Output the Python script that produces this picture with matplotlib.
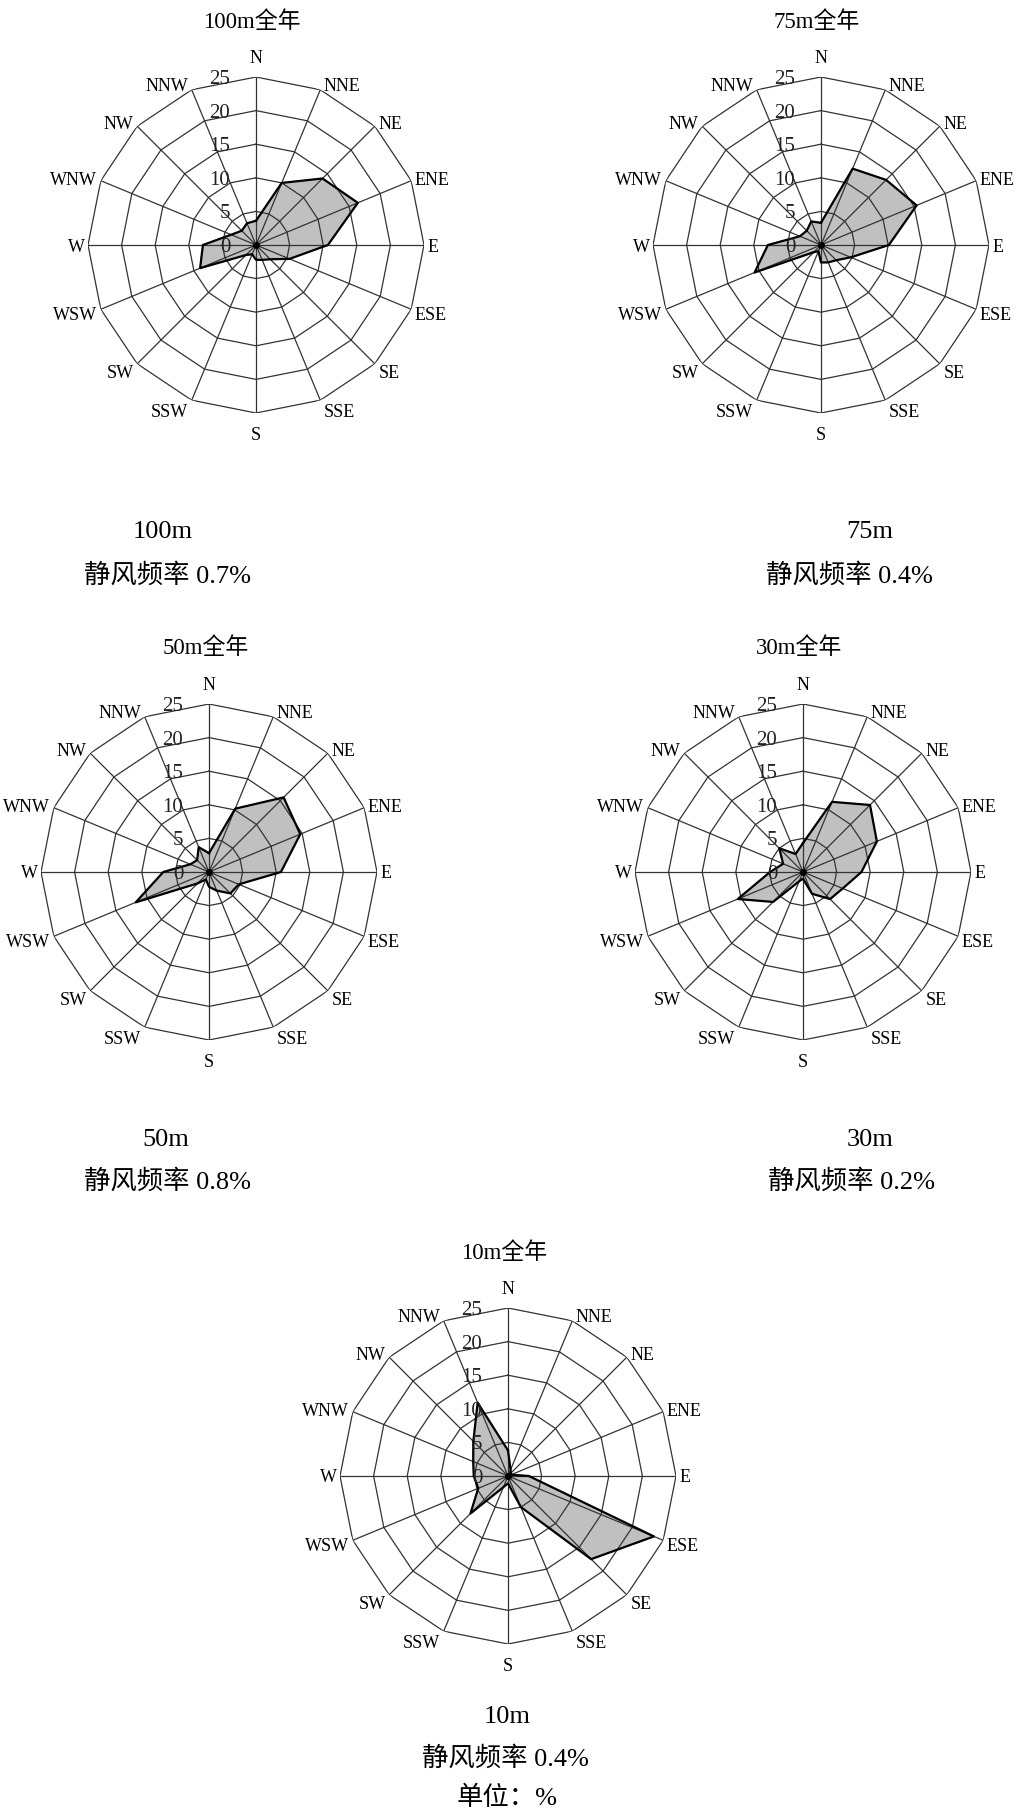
import numpy as np
import matplotlib
matplotlib.use('Agg')
import matplotlib.pyplot as plt

# directions, clockwise from N
dirs = ['N', 'NNE', 'NE', 'ENE', 'E', 'ESE', 'SE', 'SSE',
        'S', 'SSW', 'SW', 'WSW', 'W', 'WNW', 'NW', 'NNW']

heights = ['100m', '75m', '50m', '30m', '10m']

# wind direction frequency (%)
f100 = [3.6, 10.0, 14.0, 16.4, 10.7, 5.4, 3.0, 2.4, 2.2, 1.5, 2.1, 9.0, 7.9, 4.0, 3.0, 3.5]
f75 = [3.3, 12.3, 13.7, 15.4, 10.1, 4.8, 3.2, 2.8, 2.6, 1.0, 1.5, 10.7, 7.9, 3.4, 3.0, 3.8]
f50 = [2.8, 10.2, 15.7, 14.7, 10.7, 4.8, 4.5, 3.0, 2.2, 1.2, 2.4, 11.8, 6.8, 3.0, 2.5, 4.0]
f30 = [4.3, 11.3, 14.1, 11.9, 8.7, 6.4, 5.7, 3.5, 1.0, 1.5, 6.3, 10.5, 4.9, 3.2, 5.0, 2.9]
f10 = [3.8, 1.0, 0.6, 0.5, 3.1, 23.5, 17.5, 5.0, 1.1, 1.8, 7.9, 4.8, 5.1, 5.6, 7.3, 11.8]
freqs = [f100, f75, f50, f30, f10]

calm = [0.7, 0.4, 0.8, 0.2, 0.4]   # 静风频率 %
rings = [0, 5, 10, 15, 20, 25]

W, H = 1027, 1811
R = 168  # px radius of the 25 ring

# pixel layout: rose centre, title pos, caption (x1, y1, x2, y2)
centers = [(256, 245), (821, 245), (209, 872), (803, 872), (508, 1476)]
title_pos = [(252, 22), (817, 22), (206, 648), (799, 648), (504, 1253)]
cap_pos = [(163, 532, 167, 575), (870, 532, 849, 575),
           (166, 1140, 167, 1181), (870, 1140, 852, 1181),
           (507, 1717, 505, 1758)]

serif = ['Liberation Serif', 'Noto Sans CJK SC']
gc = '#333333'

fig = plt.figure(figsize=(W / 100, H / 100), dpi=100)

theta = np.deg2rad(np.arange(16) * 22.5)
th = np.append(theta, theta[0])

for k in range(5):
    cx, cy = centers[k]
    ax = fig.add_axes([(cx - R) / W, 1 - (cy + R) / H, 2 * R / W, 2 * R / H], projection='polar')
    ax.set_theta_zero_location('N')
    ax.set_theta_direction(-1)
    ax.set_ylim(0, 25)
    ax.grid(False)
    ax.set_xticks([])
    ax.set_yticks([])
    ax.spines['polar'].set_visible(False)
    ax.patch.set_alpha(0)

    v = np.append(freqs[k], freqs[k][0])
    ax.fill(th, v, color='#c0c0c0', zorder=1)

    # polygon rings and spokes
    for lv in rings[1:]:
        ax.plot(th, [lv] * len(th), color=gc, lw=0.9, zorder=2)
    for t in theta:
        ax.plot([t, t], [0, 25], color=gc, lw=0.9, zorder=2)

    ax.plot(th, v, color='black', lw=1.6, zorder=3)
    ax.plot(0, 0, 'o', color='black', ms=4, zorder=4)

    # direction labels just outside the outer ring
    for t, d in zip(theta, dirs):
        s, c = np.sin(t), np.cos(t)
        if abs(s) < 0.05:
            off = 7 if c > 0 else -10
            ax.annotate(d, xy=(t, 25), xytext=(0, off), textcoords='offset points',
                        ha='center', va='bottom' if c > 0 else 'top', fontsize=13, family=serif)
        else:
            dy = 4 * c if c > 0 else 8 * c
            ax.annotate(d, xy=(t, 25), xytext=(2.5 * np.sign(s), dy), textcoords='offset points',
                        ha='left' if s > 0 else 'right', va='center_baseline',
                        fontsize=13, family=serif)
    for lv in rings:
        ax.annotate(str(lv), xy=(0, lv), xytext=(-18.5, 0), textcoords='offset points',
                    ha='right', va='center_baseline', fontsize=15, family=serif, color='#222222')

    tx, ty = title_pos[k]
    fig.text(tx / W, 1 - ty / H, heights[k] + '全年', ha='center', va='center',
             fontsize=16.5, family=serif)
    x1, y1, x2, y2 = cap_pos[k]
    fig.text(x1 / W, 1 - y1 / H, heights[k], ha='center', va='center', fontsize=19, family=serif)
    fig.text(x2 / W, 1 - y2 / H, '静风频率 %.1f%%' % calm[k], ha='center', va='center',
             fontsize=19, family=serif)

fig.text(507 / W, 1 - 1798 / H, '单位：%', ha='center', va='center', fontsize=19, family=serif)

fig.savefig('out.png', dpi=100, facecolor='white')
